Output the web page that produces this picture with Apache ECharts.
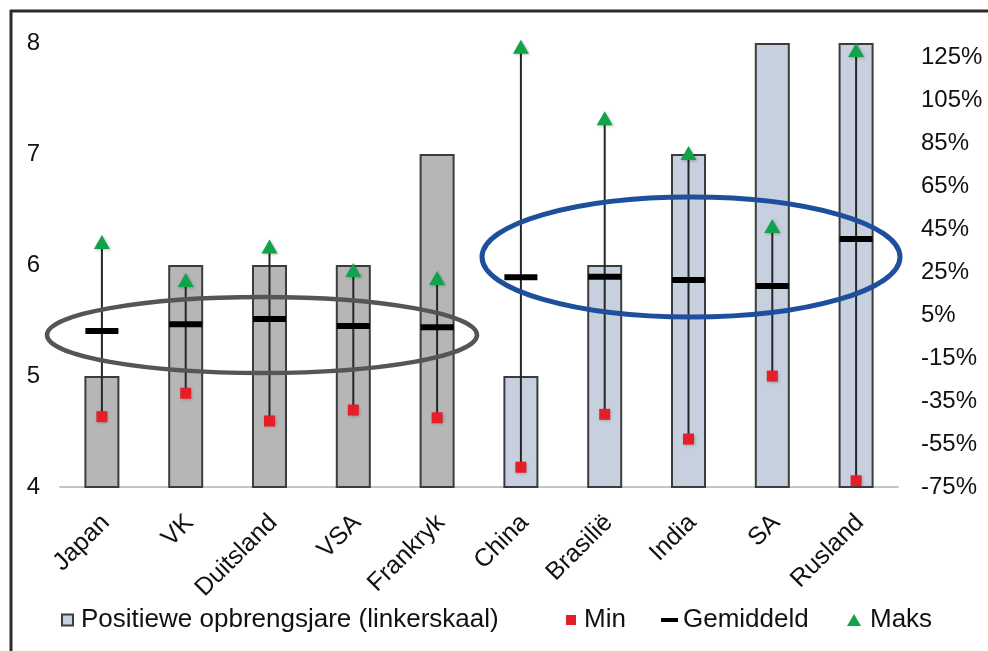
<!DOCTYPE html>
<html>
<head>
<meta charset="utf-8">
<script src="https://cdn.jsdelivr.net/npm/echarts@6/dist/echarts.min.js"></script>
<style>
  html, body { margin: 0; padding: 0; background: #ffffff; }
  #chart { width: 988px; height: 651px; }
</style>
</head>
<body>
<div id="chart"></div>
<script>
// ---- data ----
const categories = ['Japan', 'VK', 'Duitsland', 'VSA', 'Frankryk', 'China', 'Brasilië', 'India', 'SA', 'Rusland'];
const positiveYears = [5, 6, 6, 6, 7, 5, 6, 7, 8, 8];           // left scale
const minValues  = [-42.3, -31.4, -44.3, -39.2, -42.8, -65.8, -41.2, -52.7, -23.4, -72.1]; // % right scale
const meanValues = [-2.4, 0.7, 3.1, -0.1, -0.7, 22.5, 22.8, 21.3, 18.5, 40.3];
const maxValues  = [39.0, 21.3, 36.8, 25.9, 22.2, 129.8, 96.5, 80.3, 46.4, 128.3];
const marketGroup = ['ontwikkel', 'ontwikkel', 'ontwikkel', 'ontwikkel', 'ontwikkel',
                     'opkomend', 'opkomend', 'opkomend', 'opkomend', 'opkomend'];
const leftTicks = [4, 5, 6, 7, 8];
const rightTicks = [-75, -55, -35, -15, 5, 25, 45, 65, 85, 105, 125];
const seriesNames = ['Positiewe opbrengsjare (linkerskaal)', 'Min', 'Gemiddeld', 'Maks'];

// ---- style ----
const FONT = 'Liberation Sans, Arial, sans-serif';
const GRAY = '#b6b6b6';
const BLUE = '#c7d0de';
const TXT = '#111111';

const chart = echarts.init(document.getElementById('chart'), null, { renderer: 'canvas' });

const legendBase = {
  orient: 'horizontal',
  top: 602,
  itemGap: 0,
  textStyle: { fontFamily: FONT, fontSize: 26, color: TXT },
  selectedMode: false
};

const option = {
  backgroundColor: '#ffffff',
  animation: false,
  grid: { left: 60, right: 90, top: 43, bottom: 164, containLabel: false },
  legend: [
    Object.assign({}, legendBase, {
      left: 56, data: [{ name: seriesNames[0], icon: 'rect' }],
      itemWidth: 11, itemHeight: 11,
      textStyle: Object.assign({}, legendBase.textStyle, { padding: [0, 0, 0, 3] })
    }),
    Object.assign({}, legendBase, {
      left: 561, data: [{ name: seriesNames[1], icon: 'rect' }],
      itemWidth: 10, itemHeight: 10,
      textStyle: Object.assign({}, legendBase.textStyle, { padding: [0, 0, 0, 3] })
    }),
    Object.assign({}, legendBase, {
      left: 656, data: [{ name: seriesNames[2], icon: 'rect' }],
      itemWidth: 17, itemHeight: 4
    }),
    Object.assign({}, legendBase, {
      left: 842, data: [{ name: seriesNames[3], icon: 'triangle' }],
      itemWidth: 14, itemHeight: 12,
      textStyle: Object.assign({}, legendBase.textStyle, { padding: [0, 0, 0, 4] })
    })
  ],
  xAxis: {
    type: 'category',
    data: categories,
    axisLine: { show: true, onZero: false, lineStyle: { color: '#c4c4c4', width: 2 } },
    axisTick: { show: false },
    axisLabel: {
      interval: 0, rotate: 45, margin: 18,
      verticalAlign: 'top',
      padding: [0, 7, 0, 0],
      fontFamily: FONT, fontSize: 25, color: TXT
    },
    splitLine: { show: false }
  },
  yAxis: [
    {
      type: 'value', min: leftTicks[0], max: leftTicks[leftTicks.length - 1], interval: 1,
      axisLine: { show: false }, axisTick: { show: false }, splitLine: { show: false },
      axisLabel: { margin: 20, fontFamily: FONT, fontSize: 24, color: TXT, customValues: leftTicks }
    },
    {
      type: 'value', min: rightTicks[0], max: 131.5,
      axisLine: { show: false }, axisTick: { show: false }, splitLine: { show: false },
      axisLabel: {
        margin: 23, fontFamily: FONT, fontSize: 24, color: TXT,
        customValues: rightTicks,
        formatter: v => v + '%'
      }
    }
  ],
  series: [
    {
      name: seriesNames[0],
      type: 'bar',
      yAxisIndex: 0,
      barWidth: 35,
      itemStyle: { color: BLUE, borderColor: '#3c3c3c', borderWidth: 2 },
      data: positiveYears.map((v, i) => ({
        value: v,
        itemStyle: { color: marketGroup[i] === 'ontwikkel' ? GRAY : BLUE }
      })),
      z: 2
    },
    {
      name: 'reeks',
      type: 'custom',
      yAxisIndex: 1,
      encode: { x: 0, y: [1, 2] },
      data: categories.map((c, i) => [i, minValues[i], maxValues[i]]),
      renderItem: function (params, api) {
        const i = api.value(0);
        const p1 = api.coord([i, api.value(1)]);
        const p2 = api.coord([i, api.value(2)]);
        return {
          type: 'line',
          shape: { x1: p1[0], y1: p1[1], x2: p2[0], y2: p2[1] },
          style: { stroke: '#262626', lineWidth: 2 }
        };
      },
      z: 3
    },
    {
      name: seriesNames[2],
      type: 'scatter',
      yAxisIndex: 1,
      symbol: 'rect',
      symbolSize: [33, 6],
      itemStyle: { color: '#000000', opacity: 1 },
      data: meanValues,
      z: 4
    },
    {
      name: seriesNames[1],
      type: 'scatter',
      yAxisIndex: 1,
      symbol: 'rect',
      symbolSize: 11,
      itemStyle: { color: '#e51f2a', opacity: 1, shadowBlur: 3, shadowColor: 'rgba(0,0,0,0.25)', shadowOffsetX: 1, shadowOffsetY: 1 },
      data: minValues,
      z: 5
    },
    {
      name: seriesNames[3],
      type: 'scatter',
      yAxisIndex: 1,
      symbol: 'triangle',
      symbolSize: [16, 14],
      itemStyle: { color: '#12a24b', opacity: 1, shadowBlur: 3, shadowColor: 'rgba(0,0,0,0.25)', shadowOffsetX: 1, shadowOffsetY: 1 },
      data: maxValues,
      z: 5
    }
  ],
  graphic: [
    // frame
    { type: 'line', z: 200, shape: { x1: 10, y1: 11, x2: 988, y2: 11 }, style: { stroke: '#2b2b2b', lineWidth: 3 } },
    { type: 'line', z: 200, shape: { x1: 11, y1: 10, x2: 11, y2: 651 }, style: { stroke: '#2b2b2b', lineWidth: 3 } },
    // annotation ellipses
    { type: 'ellipse', z: 100, shape: { cx: 262, cy: 335, rx: 215, ry: 38 }, style: { fill: 'none', stroke: '#555555', lineWidth: 4.5 } },
    { type: 'ellipse', z: 100, shape: { cx: 691, cy: 257, rx: 209, ry: 60 }, style: { fill: 'none', stroke: '#1e4f9c', lineWidth: 5 } }
  ]
};

chart.setOption(option);
</script>
</body>
</html>
